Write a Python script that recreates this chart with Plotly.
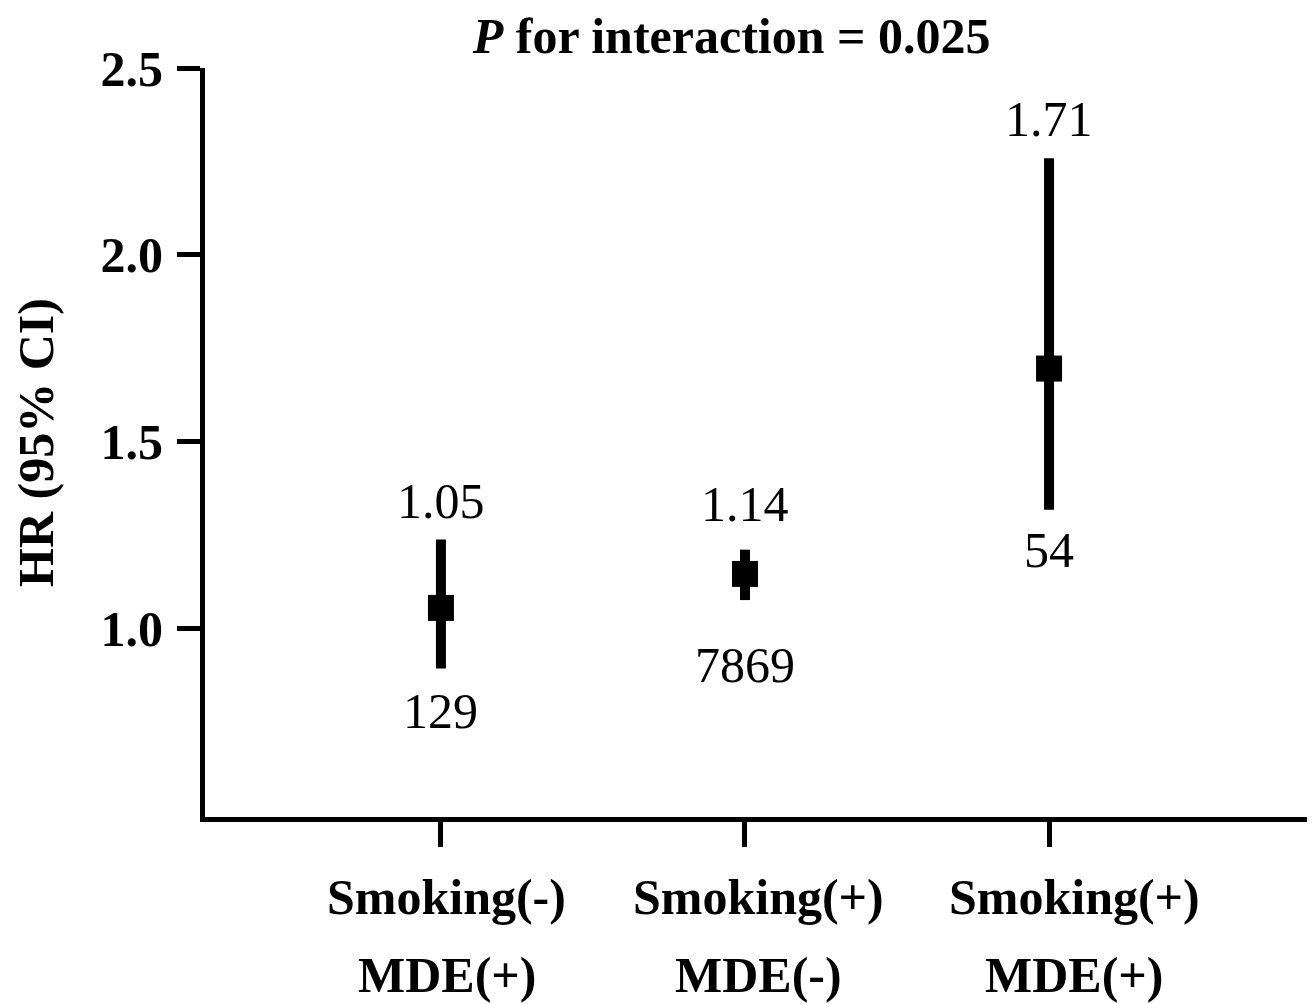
import plotly.graph_objects as go

# Data
categories = ["Smoking(-)", "Smoking(+)", "Smoking(+)"]
subgroups = ["MDE(+)", "MDE(-)", "MDE(+)"]
hr = [1.054, 1.145, 1.695]
hr_labels = ["1.05", "1.14", "1.71"]
ci_low = [0.892, 1.075, 1.317]
ci_high = [1.237, 1.210, 2.258]
n_cases = ["129", "7869", "54"]
y_ticks = [1.0, 1.5, 2.0, 2.5]
y_tick_labels = ["1.0", "1.5", "2.0", "2.5"]

FONT = "Liberation Serif"
FS = 50
x_pos = list(range(len(hr)))

fig = go.Figure()
fig.add_trace(go.Scatter(
    x=x_pos, y=hr, mode="markers",
    marker=dict(symbol="square", size=26, color="black", line=dict(width=0)),
    error_y=dict(type="data", symmetric=False,
                 array=[h - m for h, m in zip(ci_high, hr)],
                 arrayminus=[m - l for m, l in zip(hr, ci_low)],
                 thickness=10, width=0, color="black"),
    showlegend=False, hoverinfo="skip",
))

annotations = []
lab_up = [9, 16, 9]
lab_down = [13, 35, 10]
cat_xshift = [6, 14, 25]
for i in x_pos:
    annotations.append(dict(x=i, y=ci_high[i], xref="x", yref="y", text=hr_labels[i],
                            showarrow=False, yanchor="bottom", yshift=lab_up[i],
                            font=dict(family=FONT, size=FS, color="black")))
    annotations.append(dict(x=i, y=ci_low[i], xref="x", yref="y", text=n_cases[i],
                            showarrow=False, yanchor="top", yshift=-lab_down[i],
                            font=dict(family=FONT, size=FS, color="black")))
    annotations.append(dict(x=i, y=0, xref="x", yref="paper", text="<b>" + categories[i] + "</b>",
                            showarrow=False, yanchor="middle", yshift=-80, xshift=cat_xshift[i],
                            font=dict(family=FONT, size=FS, color="black")))
    annotations.append(dict(x=i, y=0, xref="x", yref="paper", text="<b>" + subgroups[i] + "</b>",
                            showarrow=False, yanchor="middle", yshift=-158, xshift=cat_xshift[i],
                            font=dict(family=FONT, size=FS, color="black")))

fig.update_layout(
    width=1315, height=1004,
    margin=dict(l=197, r=14, t=60, b=195),
    plot_bgcolor="white", paper_bgcolor="white",
    font=dict(family=FONT, size=FS, color="black"),
    title=dict(text="<b><i>P</i> for interaction = 0.025</b>",
               x=0.477, xref="paper", xanchor="center",
               y=1 - 27 / 1004, yref="container", yanchor="middle",
               font=dict(family=FONT, size=FS, color="black")),
    xaxis=dict(range=[-0.776, 2.855], tickmode="array", tickvals=x_pos,
               ticktext=["" for _ in categories],
               showline=True, linewidth=5, linecolor="black",
               ticks="outside", ticklen=25, tickwidth=5, tickcolor="black",
               showgrid=False, zeroline=False,
               automargin=False,
               tickfont=dict(family=FONT, size=FS, color="black")),
    yaxis=dict(range=[0.494, 2.5], tickmode="array", tickvals=y_ticks,
               ticktext=["<b>" + t + "</b>" for t in y_tick_labels],
               showline=True, linewidth=5, linecolor="black",
               ticks="outside", ticklen=23, tickwidth=5, tickcolor="black",
               showgrid=False, zeroline=False, ticklabelstandoff=4,
               automargin=False,
               tickfont=dict(family=FONT, size=FS, color="black"),
               title=dict(text="<b>HR (95% CI)</b>", standoff=37,
                          font=dict(family=FONT, size=FS, color="black"))),
    annotations=annotations,
)

fig.write_html("out.html")
